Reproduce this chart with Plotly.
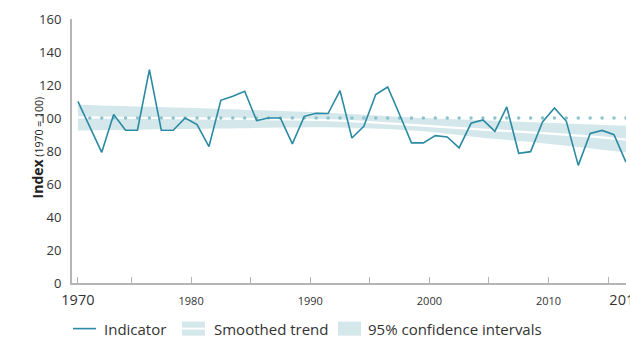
import plotly.graph_objects as go

# ---- data ----
years = list(range(1970, 2017))
indicator = [110.1, 94.8, 79.2, 102.1, 92.6, 92.6, 129.3, 92.6, 92.6, 100.0,
             96.0, 82.7, 110.7, 113.2, 116.2, 98.4, 100.0, 100.0, 84.3, 101.0,
             102.9, 102.7, 116.6, 87.9, 95.0, 114.2, 118.8, 102.1, 84.9, 84.9,
             89.3, 88.5, 81.9, 96.8, 98.8, 91.9, 106.7, 78.6, 79.6, 97.6,
             106.1, 98.0, 71.3, 90.7, 92.5, 89.9, 73.2]

trend_years = [1970, 1976, 1982, 1987, 1992, 1999, 2004, 2008, 2012, 2016]
trend = [100.4, 100.0, 99.6, 99.2, 98.4, 95.4, 93.0, 91.3, 89.3, 86.9]
ci_upper = [108.1, 106.8, 105.5, 104.2, 102.8, 100.0, 98.6, 97.4, 96.4, 95.4]
ci_lower = [92.4, 93.1, 93.6, 94.2, 94.3, 92.0, 88.0, 85.5, 82.5, 79.2]

baseline_value = 100
y_ticks = [0, 20, 40, 60, 80, 100, 120, 140, 160]
x_label_years = [1980, 1990, 2000, 2010]

LINE = "#2b8aa3"
BAND = "#d4e7eb"
DOT = "#8cc2cc"
TXT = "#333333"
AX = "#b5b5b5"
FONT = "Open Sans"


def mid(y):
    return f"{y}-07-01"


x_data = [mid(y) for y in years]
x_trend = [mid(y) for y in trend_years]

fig = go.Figure()

# confidence band
fig.add_trace(go.Scatter(x=x_trend, y=ci_lower, mode="lines",
                         line=dict(width=0, color=BAND, shape="spline"),
                         hoverinfo="skip", showlegend=False))
fig.add_trace(go.Scatter(x=x_trend, y=ci_upper, mode="lines", fill="tonexty",
                         fillcolor=BAND, line=dict(width=0, color=BAND, shape="spline"),
                         hoverinfo="skip", showlegend=False))
# smoothed trend
fig.add_trace(go.Scatter(x=x_trend, y=trend, mode="lines",
                         line=dict(width=2.2, color="white", shape="spline"),
                         showlegend=False))
# baseline dots
fig.add_trace(go.Scatter(x=x_data[1:], y=[baseline_value] * (len(years) - 1),
                         mode="markers", marker=dict(size=3.5, color=DOT),
                         showlegend=False))
# indicator
fig.add_trace(go.Scatter(x=x_data, y=indicator, mode="lines",
                         line=dict(width=1.6, color=LINE), showlegend=False))

# x ticks
tickvals = [mid(1970)]
ticktext = ["<span style='font-size:14.5px'>1970</span>"]
for y in range(1975, 2016, 5):
    tickvals.append(f"{y}-01-01")
    ticktext.append(str(y) if y in x_label_years else "")
tickvals.append(mid(2016))
ticktext.append("<span style='font-size:14.5px'>2016</span>")

fig.update_xaxes(
    type="date", range=["1970-01-01", "2016-07-03"],
    tickmode="array", tickvals=tickvals, ticktext=ticktext,
    ticks="inside", ticklen=6, tickwidth=1, tickcolor=AX,
    showline=True, linecolor=AX, linewidth=1.5,
    showgrid=False, zeroline=False,
    tickfont=dict(family=FONT, size=11, color=TXT),
    ticklabelstandoff=7, ticklabeloverflow="allow", automargin=False,
)
fig.update_yaxes(
    range=[0, 160], tickmode="array", tickvals=y_ticks,
    showline=True, linecolor=AX, linewidth=2,
    showgrid=False, zeroline=False, ticks="",
    tickfont=dict(family=FONT, size=13, color=TXT),
    ticklabelstandoff=6, automargin=False,
)

annotations = [
    dict(text="<b>Index</b><span style='font-size:10.5px'> (1970 = 100)</span>",
         xref="paper", yref="paper", x=-0.063, y=0.51, textangle=-90,
         showarrow=False, font=dict(family=FONT, size=14, color="#222222"),
         xanchor="center", yanchor="middle"),
]

# manual legend
W = 554.0
H = 264.0


def px_x(p):
    return (p - 72) / W


def px_y(p):
    return (283.4 - p) / H


leg_y = 329
shapes = [
    dict(type="line", xref="paper", yref="paper", x0=px_x(73), x1=px_x(96),
         y0=px_y(leg_y), y1=px_y(leg_y), line=dict(color=LINE, width=1.6)),
    dict(type="rect", xref="paper", yref="paper", x0=px_x(182), x1=px_x(205),
         y0=px_y(leg_y + 7), y1=px_y(leg_y - 7), fillcolor=BAND, line=dict(width=0)),
    dict(type="line", xref="paper", yref="paper", x0=px_x(182), x1=px_x(205),
         y0=px_y(leg_y), y1=px_y(leg_y), line=dict(color="white", width=2)),
    dict(type="rect", xref="paper", yref="paper", x0=px_x(338), x1=px_x(361),
         y0=px_y(leg_y + 7), y1=px_y(leg_y - 7), fillcolor=BAND, line=dict(width=0)),
]
for label, xpx in [("Indicator", 102), ("Smoothed trend", 212), ("95% confidence intervals", 366)]:
    annotations.append(dict(text=label, xref="paper", yref="paper", x=px_x(xpx), y=px_y(leg_y),
                            xanchor="left", yanchor="middle", showarrow=False,
                            font=dict(family=FONT, size=15, color=TXT)))

fig.update_layout(
    width=630, height=338,
    margin=dict(l=72, r=4, t=19, b=55),
    paper_bgcolor="white", plot_bgcolor="white",
    showlegend=False,
    shapes=shapes, annotations=annotations,
)

fig.write_html("out.html", config={"displayModeBar": False},
               post_script="document.body.style.margin='0';document.body.style.overflow='hidden';")
